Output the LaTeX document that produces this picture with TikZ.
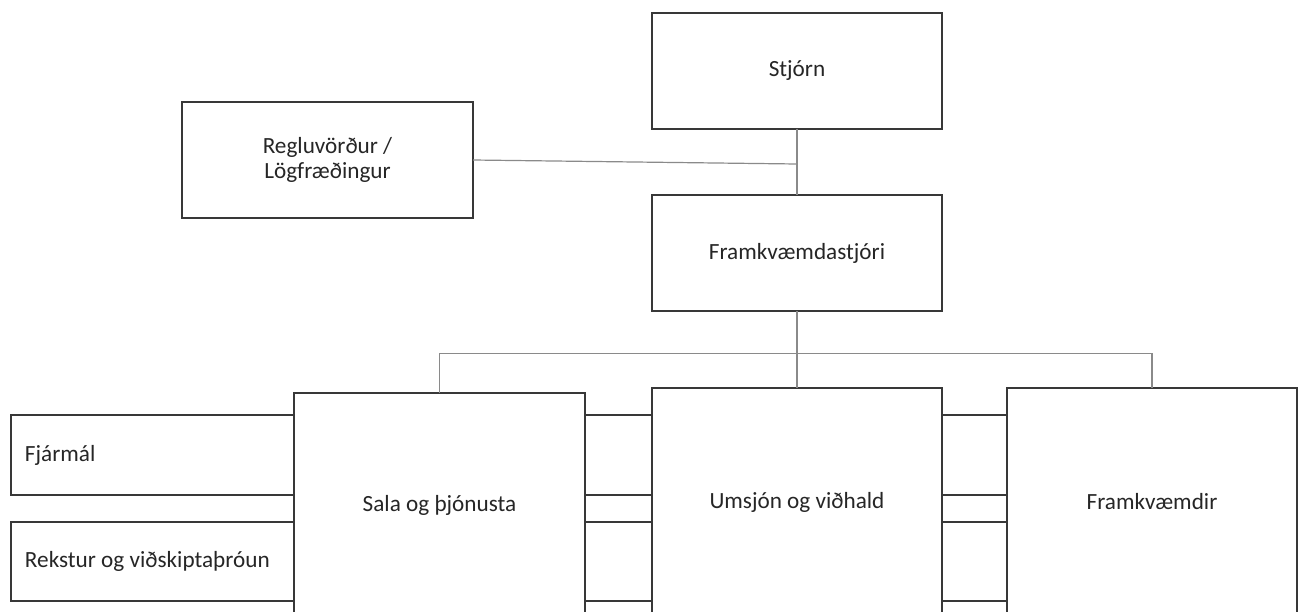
\documentclass[tikz,border=0pt]{standalone}
\usepackage{fontspec}
\setmainfont{Carlito}
\definecolor{boxc}{HTML}{383838}
\definecolor{linec}{HTML}{8A8A8A}
\definecolor{txt}{HTML}{262626}
\begin{document}
\begin{tikzpicture}[x=0.5pt,y=-0.5pt,
  box/.style={draw=boxc, line width=1pt, fill=white, inner sep=0pt, outer sep=0pt,
    minimum width=145pt, minimum height=58pt, align=center, text=txt,
    font=\fontsize{11.6}{12.5}\selectfont},
  leftbox/.style={box, minimum width=141.5pt, text width=127.5pt, inner xsep=7pt, align=left},
  conn/.style={draw=linec, line width=0.6pt},
  side/.style={draw=boxc, line width=1pt}]
\useasboundingbox (0,0) rectangle (1301,611);
\clip (0,0) rectangle (1301,611);
% boxes
\node[box] (stj) at (797,70.5) {Stjórn};
\node[box] (fr) at (797,253) {Framkvæmdastjóri};
\node[box, minimum width=145.5pt] (reg) at (327.5,160) {Regluvörður /\\Lögfræðingur};
\node[leftbox, minimum height=40pt] (fja) at (152.5,455) {\spaceskip=0pt\relax Fjármál};
\node[leftbox, minimum height=39.5pt] (rek) at (152.5,561) {\spaceskip=0pt\relax Rekstur og viðskiptaþróun};
\node[box, minimum width=145.5pt, minimum height=112pt] (sala) at (439.5,505) {Sala og þjónusta};
\node[box, minimum height=114pt] (ums) at (797,502) {Umsjón og viðhald};
\node[box, minimum height=114pt] (frd) at (1152,502) {Framkvæmdir};
% connectors
\coordinate (j) at (797,164);
\coordinate (bus) at (797,353.3);
\draw[conn] (stj.south) -- (fr.north);
\draw[conn] (reg.east) -- (j);
\draw[conn] (fr.south) -- (bus);
\draw[conn] (sala.north) |- (bus) -| (frd.north);
\draw[conn] (bus) -- (ums.north);
% side lines between the lower boxes
\foreach \a in {fja.north, fja.south, rek.north, rek.south}{
  \draw[side] (sala.east |- \a) -- (ums.west |- \a);
  \draw[side] (ums.east |- \a) -- (frd.west |- \a);
}
\end{tikzpicture}
\end{document}
